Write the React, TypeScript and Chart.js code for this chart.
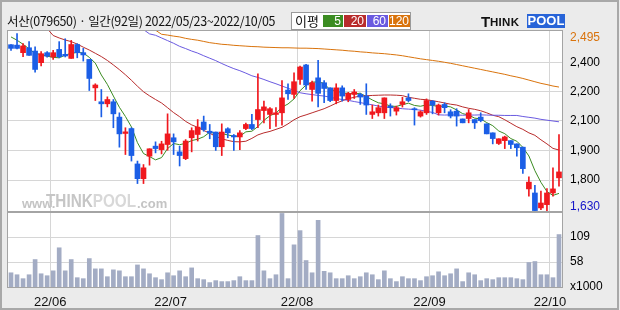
import React, { useEffect, useRef } from 'react';
import { Chart, registerables } from 'chart.js';

Chart.register(...registerables);

// ---- trading days (2022/05/23 ~ 2022/10/05) ----
const mayDays = [23, 24, 25, 26, 27, 30, 31];
const junDays = [2, 3, 7, 8, 9, 10, 13, 14, 15, 16, 17, 20, 21, 22, 23, 24, 27, 28, 29, 30];
const julDays = [1, 4, 5, 6, 7, 8, 11, 12, 13, 14, 15, 18, 19, 20, 21, 22, 25, 26, 27, 28, 29];
const augDays = [1, 2, 3, 4, 5, 8, 9, 10, 11, 12, 16, 17, 18, 19, 22, 23, 24, 25, 26, 29, 30, 31];
const sepDays = [1, 2, 5, 6, 7, 8, 13, 14, 15, 16, 19, 20, 21, 22, 23, 26, 27, 28, 29, 30];
const octDays = [4, 5];
const monthCodes = ['05', '06', '07', '08', '09', '10'];

// ---- daily prices ----
const opens = [
  2441, 2439, 2402, 2426, 2410, 2353, 2402, 2381, 2418, 2394,
  2374, 2442, 2402, 2369, 2230, 2162, 2152, 2162, 2087, 2007,
  2031, 1858, 1786, 1896, 1945, 1928, 1953, 1986, 1917, 1884,
  1986, 2002, 2063, 2018, 2014, 1942, 2030, 1997, 1990, 2031,
  2051, 2075, 2119, 2100, 2100, 2108, 2219, 2198, 2271, 2342,
  2222, 2279, 2255, 2230, 2168, 2230, 2173, 2198, 2198, 2190,
  2100, 2108, 2108, 2141, 2116, 2149, 2181, 2128, 2092, 2108,
  2165, 2108, 2149, 2113, 2116, 2078, 2080, 2075, 2087, 2054,
  2010, 1958, 1972, 1972, 1956, 1940, 1736, 1716, 1643, 1659,
  1716, 1790,
];
const highs = [
  2441, 2495, 2446, 2456, 2431, 2407, 2407, 2413, 2456, 2470,
  2462, 2446, 2423, 2369, 2250, 2222, 2186, 2173, 2108, 2035,
  2035, 1872, 1855, 1932, 1966, 1969, 2103, 2005, 1945, 1977,
  2035, 2075, 2092, 2051, 2014, 2054, 2035, 2002, 2021, 2058,
  2100, 2299, 2165, 2133, 2133, 2266, 2250, 2304, 2337, 2345,
  2263, 2364, 2266, 2230, 2250, 2240, 2208, 2222, 2203, 2250,
  2146, 2146, 2181, 2152, 2141, 2184, 2201, 2133, 2118, 2176,
  2168, 2151, 2157, 2123, 2128, 2078, 2124, 2075, 2108, 2054,
  2010, 1981, 1994, 1972, 1956, 1940, 1795, 1754, 1725, 1737,
  1839, 2002,
];
const lows = [
  2413, 2420, 2382, 2389, 2307, 2337, 2380, 2369, 2377, 2381,
  2374, 2377, 2361, 2217, 2168, 2088, 2137, 2035, 1940, 1904,
  1872, 1762, 1762, 1852, 1912, 1907, 1925, 1904, 1848, 1879,
  1917, 1970, 2018, 1981, 1924, 1899, 1986, 1924, 1928, 2026,
  2026, 2035, 2059, 2031, 2041, 2048, 2173, 2178, 2247, 2222,
  2165, 2137, 2157, 2162, 2152, 2165, 2162, 2178, 2149, 2100,
  2080, 2092, 2080, 2092, 2097, 2136, 2162, 2048, 2087, 2100,
  2103, 2097, 2108, 2083, 2043, 2059, 2059, 2031, 2064, 2005,
  1956, 1953, 1933, 1933, 1896, 1812, 1700, 1630, 1635, 1630,
  1700, 1749,
];
const closes = [
  2423, 2423, 2435, 2389, 2320, 2397, 2385, 2402, 2382, 2386,
  2442, 2402, 2391, 2276, 2244, 2152, 2173, 2103, 2005, 2015,
  1899, 1786, 1839, 1932, 1933, 1956, 2005, 1966, 1899, 1970,
  2021, 2038, 2026, 2009, 1942, 2014, 2010, 1990, 2010, 2051,
  2031, 2124, 2137, 2128, 2108, 2181, 2201, 2260, 2332, 2244,
  2255, 2203, 2227, 2168, 2230, 2190, 2203, 2210, 2185, 2146,
  2113, 2133, 2181, 2133, 2133, 2162, 2168, 2123, 2113, 2168,
  2146, 2146, 2133, 2092, 2092, 2059, 2108, 2059, 2070, 2005,
  1982, 1981, 1990, 1953, 1937, 1835, 1769, 1630, 1667, 1716,
  1736, 1819,
];
// volume in thousands
const volumes = [
  36, 32, 24, 32, 63, 34, 30, 40, 87, 40,
  63, 26, 24, 65, 44, 44, 28, 42, 40, 28,
  28, 52, 44, 34, 26, 22, 36, 30, 40, 28,
  46, 24, 22, 16, 20, 18, 18, 20, 28, 20,
  20, 112, 40, 24, 32, 157, 24, 93, 122, 61,
  36, 143, 39, 36, 24, 24, 30, 24, 28, 36,
  32, 22, 40, 24, 18, 28, 24, 24, 20, 28,
  30, 38, 30, 34, 44, 18, 36, 32, 20, 24,
  22, 26, 26, 26, 24, 22, 57, 59, 32, 32,
  26, 114,
];

// ---- moving averages ----
const ma5 = [
  2479, 2463, 2443, 2421, 2398, 2393, 2385, 2379, 2377, 2390,
  2399, 2403, 2401, 2379, 2351, 2293, 2247, 2190, 2135, 2090,
  2039, 1962, 1909, 1894, 1878, 1889, 1933, 1958, 1952, 1959,
  1972, 1979, 1991, 2013, 2007, 2006, 2000, 1993, 1993, 2015,
  2018, 2041, 2071, 2094, 2106, 2136, 2151, 2176, 2216, 2244,
  2258, 2259, 2252, 2219, 2217, 2204, 2204, 2200, 2204, 2187,
  2171, 2157, 2152, 2141, 2139, 2148, 2155, 2144, 2140, 2147,
  2144, 2139, 2141, 2137, 2122, 2104, 2097, 2082, 2078, 2060,
  2045, 2019, 2006, 1982, 1969, 1939, 1897, 1825, 1768, 1723,
  1704, 1714,
];
const ma20 = [
  null, null, null, null, null, null, 2520, 2486, 2474, 2464,
  2456, 2444, 2429, 2415, 2399, 2383, 2364, 2342, 2319, 2294,
  2267, 2238, 2211, 2191, 2173, 2156, 2133, 2109, 2089, 2066,
  2049, 2037, 2022, 2008, 1993, 1981, 1973, 1967, 1966, 1969,
  1983, 2000, 2010, 2017, 2027, 2037, 2054, 2074, 2089, 2098,
  2108, 2118, 2128, 2141, 2155, 2167, 2177, 2184, 2190, 2191,
  2193, 2194, 2195, 2195, 2194, 2192, 2184, 2179, 2174, 2172,
  2167, 2162, 2156, 2150, 2146, 2137, 2130, 2125, 2118, 2108,
  2096, 2089, 2074, 2057, 2040, 2027, 2010, 1998, 1976, 1956,
  1934, 1926,
];
const ma60 = [
  null, null, null, null, null, null, null, null, null, null,
  null, null, null, null, null, null, null, null, null, null,
  null, null, 2515, 2494, 2487, 2474, 2461, 2448, 2433, 2422,
  2410, 2400, 2387, 2375, 2363, 2349, 2336, 2324, 2314, 2302,
  2289, 2281, 2271, 2260, 2250, 2239, 2228, 2218, 2206, 2201,
  2197, 2193, 2190, 2184, 2178, 2173, 2169, 2163, 2158, 2152,
  2147, 2141, 2136, 2134, 2131, 2128, 2126, 2124, 2121, 2115,
  2110, 2098, 2097, 2098, 2097, 2096, 2097, 2097, 2098, 2097,
  2096, 2096, 2095, 2095, 2095, 2090, 2086, 2082, 2076, 2072,
  2068, 2064,
];
const ma120 = [
  null, null, null, null, null, null, null, null, null, null,
  null, null, null, null, null, null, null, null, null, null,
  null, null, null, null, 2512, 2492, 2488, 2483, 2479, 2472,
  2467, 2463, 2457, 2451, 2447, 2443, 2441, 2438, 2436, 2434,
  2432, 2431, 2429, 2428, 2427, 2426, 2426, 2425, 2424, 2424,
  2423, 2422, 2420, 2418, 2416, 2414, 2411, 2409, 2406, 2404,
  2401, 2399, 2397, 2394, 2391, 2387, 2382, 2377, 2372, 2368,
  2364, 2360, 2355, 2350, 2344, 2338, 2332, 2326, 2320, 2314,
  2308, 2302, 2296, 2289, 2283, 2276, 2268, 2260, 2252, 2246,
  2239, 2234,
];

// ---- axis ticks ----
const priceGridValues = [2353, 2211, 2068, 1922, 1779];
const priceTickLabels = ['2,400', '2,200', '2,100', '1,900', '1,800'];
const periodHigh = 2495;
const periodHighLabel = '2,495';
const periodLow = 1630;
const periodLowLabel = '1,630';
const volumeTickValues = [7, 58, 109];
const volumeTickLabels = ['x1000', '58', '109'];
const maPeriods = ['5', '20', '60', '120'];
const maColors = ['#3b8c22', '#b82c2c', '#6a5ae0', '#d9730c'];

const UP = '#f0181e';
const DOWN = '#1b5ee6';
const GRID = '#d6d6d6';
const PANEL_BORDER = '#a4a4a4';
const TICK_FONT = { family: '"Liberation Sans", Arial, sans-serif', size: 12 };

export default function App() {
  const ref = useRef<HTMLCanvasElement | null>(null);

  useEffect(() => {
    const canvas = ref.current;
    if (!canvas) return;

    const monthDayLists = [mayDays, junDays, julDays, augDays, sepDays, octDays];
    const labels: string[] = [];
    const monthTicks: string[] = [];
    monthDayLists.forEach((days, mi) => {
      days.forEach((d, di) => {
        labels.push(`22/${monthCodes[mi]}/${String(d).padStart(2, '0')}`);
        monthTicks.push(di === 0 && mi > 0 ? `22/${monthCodes[mi]}` : '');
      });
    });

    const candleColors = closes.map((c, i) => (c >= opens[i] ? UP : DOWN));
    const wickData = lows.map((l, i) => [l, highs[i]]);
    const bodyData = opens.map((o, i) => [Math.min(o, closes[i]), Math.max(o, closes[i])]);

    const panelPlugin = {
      id: 'panels',
      beforeDraw(chart: any) {
        const { ctx, chartArea: a } = chart;
        ctx.save();
        ctx.fillStyle = '#ebebeb';
        ctx.fillRect(0, 0, chart.width, chart.height);
        ctx.fillStyle = '#ffffff';
        ctx.fillRect(a.left, a.top, a.right - a.left, a.bottom - a.top);
        ctx.restore();
      },
      afterDraw(chart: any) {
        const { ctx, chartArea: a, scales } = chart;
        const py = scales.y;
        const vy = scales.yv;
        ctx.save();
        ctx.strokeStyle = PANEL_BORDER;
        ctx.lineWidth = 1;
        ctx.strokeRect(Math.round(a.left) - 0.5, Math.round(py.top) - 0.5, Math.round(a.right - a.left) + 1, Math.round(py.bottom - py.top) + 1);
        ctx.strokeRect(Math.round(a.left) - 0.5, Math.round(vy.top) - 0.5, Math.round(a.right - a.left) + 1, Math.round(vy.bottom - vy.top) + 1);
        // outer frame
        ctx.strokeStyle = '#a8a8a8';
        ctx.lineWidth = 2;
        ctx.strokeRect(1, 1, chart.width - 3, chart.height - 2);
        // period high / low labels
        ctx.font = `${TICK_FONT.size}px ${TICK_FONT.family}`;
        ctx.textAlign = 'left';
        ctx.textBaseline = 'middle';
        const hiY = Math.max(py.getPixelForValue(periodHigh), py.top + 7);
        const loY = Math.min(py.getPixelForValue(periodLow), py.bottom - 5);
        ctx.fillStyle = '#d9730c';
        ctx.fillText(periodHighLabel, a.right + 8, hiY);
        ctx.fillStyle = '#1414c8';
        ctx.fillText(periodLowLabel, a.right + 8, loY);
        ctx.restore();
      },
    };

    const maDataset = (data: (number | null)[], color: string) => ({
      type: 'line' as const,
      data,
      yAxisID: 'y',
      borderColor: color,
      borderWidth: 1,
      pointRadius: 0,
      tension: 0,
      order: 5,
    });

    const chart = new Chart(canvas, {
      type: 'bar',
      data: {
        labels,
        datasets: [
          maDataset(ma120, maColors[3]),
          maDataset(ma60, maColors[2]),
          maDataset(ma20, maColors[1]),
          maDataset(ma5, maColors[0]),
          {
            type: 'bar',
            data: wickData as any,
            yAxisID: 'y',
            backgroundColor: candleColors,
            barThickness: 1,
            grouped: false,
            borderWidth: 0,
            order: 2,
          },
          {
            type: 'bar',
            data: bodyData as any,
            yAxisID: 'y',
            backgroundColor: candleColors,
            barThickness: 5,
            grouped: false,
            borderWidth: 0,
            order: 1,
          },
          {
            type: 'bar',
            data: volumes,
            yAxisID: 'yv',
            backgroundColor: '#a3acc4',
            barThickness: 4,
            grouped: false,
            borderWidth: 0,
            order: 3,
          },
        ] as any,
      },
      options: {
        responsive: false,
        animation: false,
        devicePixelRatio: 1,
        layout: { padding: { left: 8, top: 31, right: 0, bottom: 0 } },
        plugins: { legend: { display: false }, tooltip: { enabled: false } },
        scales: {
          x: {
            type: 'category',
            offset: true,
            grid: {
              offset: true,
              drawTicks: false,
              color: (ctx: any) => (monthTicks[ctx.index] ? GRID : 'rgba(0,0,0,0)'),
            },
            border: { display: false },
            ticks: {
              autoSkip: false,
              maxRotation: 0,
              minRotation: 0,
              padding: 8,
              labelOffset: -3,
              color: '#111',
              font: { ...TICK_FONT, size: 13 },
              callback: (_v: any, i: number) => monthTicks[i],
            },
            afterFit: (s: any) => {
              s.height = 23;
            },
          },
          y: {
            type: 'linear',
            position: 'right',
            stack: 'panels',
            stackWeight: 181,
            min: 1623,
            max: 2508,
            grid: { color: GRID, drawTicks: false },
            border: { display: false },
            afterBuildTicks: (s: any) => {
              s.ticks = priceGridValues.map((v) => ({ value: v }));
            },
            ticks: {
              padding: 8,
              color: '#000',
              font: TICK_FONT,
              callback: (_v: any, i: number) => priceTickLabels[i],
            },
            afterFit: (s: any) => {
              s.width = 58;
            },
          },
          yv: {
            type: 'linear',
            position: 'right',
            stack: 'panels',
            stackWeight: 75,
            min: 7,
            max: 160,
            grid: {
              color: (ctx: any) => (ctx.index === 0 ? 'rgba(0,0,0,0)' : GRID),
              drawTicks: false,
            },
            border: { display: false },
            afterBuildTicks: (s: any) => {
              s.ticks = volumeTickValues.map((v) => ({ value: v }));
            },
            ticks: {
              padding: 8,
              color: '#000',
              font: TICK_FONT,
              callback: (_v: any, i: number) => volumeTickLabels[i],
            },
            afterFit: (s: any) => {
              s.width = 58;
            },
          },
        },
      } as any,
      plugins: [panelPlugin],
    });

    return () => chart.destroy();
  }, []);

  const hdrFont = '"Noto Sans CJK KR", "Noto Sans", sans-serif';
  const cellLefts = [31, 52, 75, 97];
  const cellWidths = [20, 22, 21, 21];

  return (
    <div style={{ position: 'fixed', left: 0, top: 0, width: 620, height: 310, overflow: 'hidden' }}>
      <canvas ref={ref} width={620} height={310} style={{ position: 'absolute', left: 0, top: 0, width: 620, height: 310 }} />
      {/* title */}
      <div
        style={{
          position: 'absolute',
          left: 7,
          top: 12,
          font: `12.5px ${hdrFont}`,
          lineHeight: '18px',
          color: '#111',
          whiteSpace: 'nowrap',
          letterSpacing: '-0.35px',
        }}
      >
        서산(079650) · 일간(92일) 2022/05/23~2022/10/05
      </div>
      {/* MA legend */}
      <div
        style={{
          position: 'absolute',
          left: 291,
          top: 12,
          width: 120,
          height: 18,
          background: '#fff',
          border: '1px solid #9a9a9a',
          boxSizing: 'border-box',
        }}
      >
        <span style={{ position: 'absolute', left: 3, top: -1, font: `13px ${hdrFont}`, lineHeight: '17px', color: '#111' }}>이평</span>
        {maPeriods.map((p, i) => (
          <span
            key={p}
            style={{
              position: 'absolute',
              left: cellLefts[i],
              top: 2,
              width: cellWidths[i],
              height: 12,
              background: maColors[i],
              color: '#fff',
              font: `12px "Liberation Sans", Arial, sans-serif`,
              lineHeight: '12px',
              textAlign: 'right',
              paddingRight: 2,
              boxSizing: 'border-box',
            }}
          >
            {p}
          </span>
        ))}
      </div>
      {/* logo */}
      <div style={{ position: 'absolute', left: 481, top: 14, height: 14, whiteSpace: 'nowrap' }}>
        <span style={{ position: 'absolute', left: 0, top: -1, font: 'bold 15px "Liberation Sans", Arial, sans-serif', color: '#111' }}>T</span>
        <span style={{ position: 'absolute', left: 9, top: 2, font: 'bold 11.5px "Liberation Sans", Arial, sans-serif', color: '#111', letterSpacing: '0.3px' }}>HINK</span>
        <span
          style={{
            position: 'absolute',
            left: 46,
            top: 0,
            width: 38,
            height: 14,
            background: '#2864d8',
            color: '#fff',
            font: 'bold 13px "Liberation Sans", Arial, sans-serif',
            lineHeight: '14px',
            textAlign: 'center',
          }}
        >
          POOL
        </span>
      </div>
      {/* watermark */}
      <span style={{ position: 'absolute', left: 22, top: 196, font: 'bold 13px "Liberation Sans", Arial, sans-serif', color: '#c4c4c4' }}>www.</span>
      <span
        style={{
          position: 'absolute',
          left: 46,
          top: 191,
          font: 'bold 18px "Liberation Sans", Arial, sans-serif',
          color: '#c6c6c6',
          transform: 'scaleX(0.85)',
          transformOrigin: 'left top',
          whiteSpace: 'nowrap',
        }}
      >
        THINK<span style={{ color: '#d8d8d8' }}>POOL</span>
      </span>
      <span style={{ position: 'absolute', left: 137, top: 196, font: 'bold 13px "Liberation Sans", Arial, sans-serif', color: '#c4c4c4' }}>.com</span>
    </div>
  );
}
